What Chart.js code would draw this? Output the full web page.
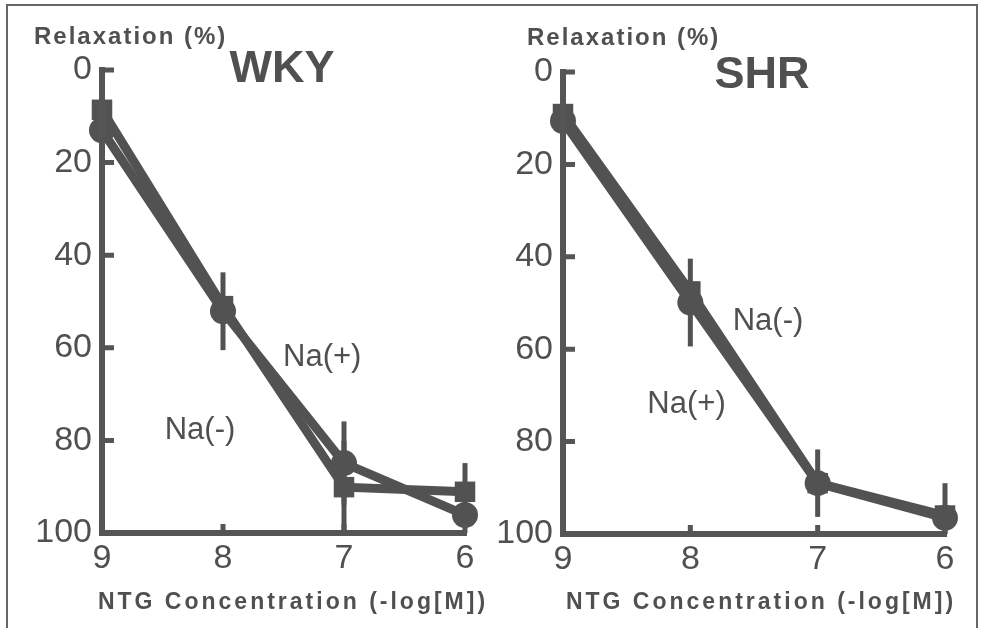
<!DOCTYPE html>
<html><head><meta charset="utf-8">
<script src="https://cdn.jsdelivr.net/npm/chart.js@4/dist/chart.umd.min.js"></script>
<style>
html,body{margin:0;padding:0;background:#fff;}
#wrap{position:relative;width:981px;height:628px;overflow:hidden;background:#fff;}
#frame{position:absolute;left:6px;top:4px;width:972px;height:660px;border:2px solid #666;box-sizing:border-box;}
canvas{position:absolute;top:0;}
</style></head>
<body>
<div id="wrap">
<div id="frame"></div>
<canvas id="c1" width="490" height="628" style="left:0"></canvas>
<canvas id="c2" width="491" height="628" style="left:490px"></canvas>
</div>
<script>
// ---- data ----
const concentrations = [9, 8, 7, 6];          // -log[M]
const xTicks = [9, 8, 7, 6];
const yTicks = [0, 20, 40, 60, 80, 100];

// WKY
const wkyNaPlus      = [13.0, 52.1, 84.9, 96.1];
const wkyNaPlusErr   = [0, 8.4, 9.0, 0];
const wkyNaMinus     = [8.6, 51.0, 90.1, 91.1];
const wkyNaMinusErr  = [0, 0, 10.0, 6.2];

// SHR
const shrNaPlus      = [10.6, 49.9, 89.0, 96.5];
const shrNaPlusErr   = [0, 9.5, 7.3, 7.5];
const shrNaMinus     = [9.1, 47.5, 89.0, 96.0];
const shrNaMinusErr  = [0, 0, 0, 0];

// in-plot labels (data coordinates)
const wkyLabels = [{text: 'Na(+)', x: 7.18, y: 62.0}, {text: 'Na(-)', x: 8.19, y: 77.8}];
const shrLabels = [{text: 'Na(-)', x: 7.39, y: 54.1}, {text: 'Na(+)', x: 8.03, y: 71.9}];

// ---- styling ----
const MARK = '#525252';
const AXIS = '#555555';
const TEXT = '#505050';
const FONT = '"Liberation Sans", Arial, Helvetica, sans-serif';

const decor = {
  id: 'decor',
  afterDatasetsDraw(chart) {
    const ctx = chart.ctx;
    const xs = chart.scales.x, ys = chart.scales.y;
    const p = chart.options.plugins.decor;
    ctx.save();
    ctx.strokeStyle = MARK;
    ctx.lineWidth = 5;
    chart.data.datasets.forEach((ds, di) => {
      const errs = p.errors[di];
      ds.data.forEach((pt, i) => {
        const e = errs[i];
        if (!e) return;
        const px = xs.getPixelForValue(pt.x);
        ctx.beginPath();
        ctx.moveTo(px, ys.getPixelForValue(Math.max(0, pt.y - e)));
        ctx.lineTo(px, ys.getPixelForValue(Math.min(100, pt.y + e)));
        ctx.stroke();
      });
    });
    ctx.restore();
  },
  afterDraw(chart) {
    const ctx = chart.ctx;
    const a = chart.chartArea;
    const xs = chart.scales.x, ys = chart.scales.y;
    const p = chart.options.plugins.decor;
    ctx.save();
    ctx.strokeStyle = AXIS;
    ctx.lineWidth = 6;
    ctx.lineCap = 'butt';
    ctx.beginPath();
    ctx.moveTo(a.left, a.top - 3);
    ctx.lineTo(a.left, a.bottom + 3);
    ctx.moveTo(a.left - 3, a.bottom);
    ctx.lineTo(a.right + 2, a.bottom);
    ctx.stroke();
    ctx.lineWidth = 5;
    ctx.beginPath();
    yTicks.forEach(v => {
      const py = ys.getPixelForValue(v);
      ctx.moveTo(a.left, py);
      ctx.lineTo(a.left + 12, py);
    });
    xTicks.forEach(v => {
      const px = xs.getPixelForValue(v);
      ctx.moveTo(px, a.bottom);
      ctx.lineTo(px, a.bottom - 9);
    });
    ctx.stroke();
    ctx.fillStyle = TEXT;
    ctx.textBaseline = 'middle';
    ctx.textAlign = 'left';
    ctx.font = 'bold 24px ' + FONT;
    ctx.letterSpacing = '2px';
    ctx.fillText('Relaxation (%)', p.yTitle.x, p.yTitle.y);
    ctx.textAlign = 'center';
    ctx.font = 'bold 23px ' + FONT;
    ctx.letterSpacing = '3px';
    ctx.fillText('NTG Concentration (-log[M])', p.xTitle.x, p.xTitle.y);
    ctx.letterSpacing = '0px';
    ctx.font = 'bold 45px ' + FONT;
    ctx.fillText(p.title.text, p.title.x, p.title.y);
    ctx.font = '31px ' + FONT;
    p.labels.forEach(l => {
      ctx.fillText(l.text, xs.getPixelForValue(l.x), ys.getPixelForValue(l.y));
    });
    ctx.restore();
  }
};

function makeChart(id, cfg) {
  const W = cfg.width, H = 628;
  const toPts = arr => concentrations.map((x, i) => ({x: x, y: arr[i]}));
  const tickFont = {family: FONT, size: 34};
  return new Chart(document.getElementById(id), {
    type: 'line',
    data: {
      datasets: [
        {label: 'Na(+)', data: toPts(cfg.plus), borderColor: MARK, backgroundColor: MARK,
         borderWidth: 9, pointStyle: 'circle', pointRadius: 13, pointBorderWidth: 0,
         pointBackgroundColor: MARK, clip: false, tension: 0},
        {label: 'Na(-)', data: toPts(cfg.minus), borderColor: MARK, backgroundColor: MARK,
         borderWidth: 9, pointStyle: 'rect', pointRadius: 14.5, pointBorderWidth: 0,
         pointBackgroundColor: MARK, clip: false, tension: 0}
      ]
    },
    options: {
      responsive: false,
      animation: false,
      events: [],
      layout: {padding: {top: cfg.top, right: W - cfg.right, left: 0, bottom: 0}},
      plugins: {
        legend: {display: false},
        tooltip: {enabled: false},
        decor: {
          errors: [cfg.plusErr, cfg.minusErr],
          labels: cfg.labels,
          title: cfg.title,
          yTitle: cfg.yTitle,
          xTitle: cfg.xTitle
        }
      },
      scales: {
        x: {
          type: 'linear', reverse: true, min: 6, max: 9,
          afterBuildTicks: s => { s.ticks = xTicks.map(v => ({value: v})); },
          grid: {display: false, drawTicks: false},
          border: {display: false},
          ticks: {font: tickFont, color: TEXT, padding: 5, autoSkip: false, maxRotation: 0,
                  callback: v => String(v)},
          afterFit: s => { s.height = H - cfg.bottom; }
        },
        y: {
          type: 'linear', reverse: true, min: 0, max: 100,
          afterBuildTicks: s => { s.ticks = yTicks.map(v => ({value: v})); },
          grid: {display: false, drawTicks: false},
          border: {display: false},
          ticks: {font: tickFont, color: TEXT, padding: 10, autoSkip: false,
                  callback: v => String(v)},
          afterFit: s => { s.width = cfg.left; }
        }
      }
    },
    plugins: [decor]
  });
}

makeChart('c1', {
  width: 490, left: 102, right: 465, top: 70, bottom: 533,
  plus: wkyNaPlus, plusErr: wkyNaPlusErr, minus: wkyNaMinus, minusErr: wkyNaMinusErr,
  labels: wkyLabels,
  title: {text: 'WKY', x: 282, y: 70},
  yTitle: {x: 34, y: 37},
  xTitle: {x: 293, y: 603}
});
makeChart('c2', {
  width: 491, left: 73, right: 455, top: 72, bottom: 534,
  plus: shrNaPlus, plusErr: shrNaPlusErr, minus: shrNaMinus, minusErr: shrNaMinusErr,
  labels: shrLabels,
  title: {text: 'SHR', x: 272, y: 76},
  yTitle: {x: 37, y: 38},
  xTitle: {x: 271, y: 603}
});
</script>
</body></html>
